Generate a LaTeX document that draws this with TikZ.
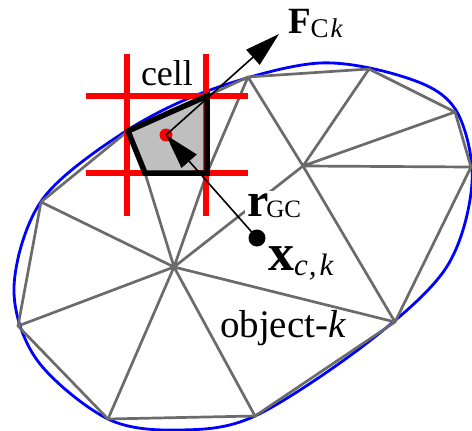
\documentclass[tikz,border=0pt]{standalone}
\usepackage{fontspec}
\setmainfont{Liberation Serif}
\usetikzlibrary{arrows.meta}
\newcommand{\sz}[1]{\fontsize{#1}{#1}\selectfont}
\tikzset{
  x=1pt,y=-1pt,
  mesh/.style={draw=black!58,line width=2.7pt,line join=round},
  outline/.style={draw=blue,line width=2.8pt},
  gridline/.style={draw=red,line width=6pt},
  cellpoly/.style={draw=black,line width=5.5pt,line join=miter},
  vec/.style={draw=black,line width=1.6pt,-{Triangle[length=35pt,width=20pt]}},
  lab/.style={anchor=base west,inner sep=0pt,outer sep=0pt},
}
\begin{document}
\begin{tikzpicture}
\useasboundingbox (0,0) rectangle (472,431);
\coordinate (A) at (248,77);
\coordinate (B) at (369,69);
\coordinate (C) at (455,112);
\coordinate (D) at (471,167);
\coordinate (E) at (303,166);
\coordinate (F) at (395,322);
\coordinate (G) at (255,416);
\coordinate (H) at (108,419);
\coordinate (I) at (18,326);
\coordinate (J) at (41,202);
\coordinate (K) at (174,267);
\coordinate (P) at (128,131);
\coordinate (Q) at (207,96);
\coordinate (R) at (207,173);
\coordinate (S) at (145,173);
\coordinate (X) at (257,238);
\coordinate (T) at (166,135);
\coordinate (U) at (279,34);
% outline
\draw[outline] plot[smooth cycle,tension=0.55] coordinates {
 (42,200) (123,133) (210,90) (320,63) (413,80) (457,112) (472,183) (446,268) (367,343) (255,416) (180,430) (108,419) (37,360) (14,287)};
% mesh
\draw[mesh] (J) -- (P) (Q) -- (A) -- (B) -- (C) -- (D) -- (F) -- (G) -- (H) -- (I) -- (J);
\draw[mesh] (K) -- (I) (K) -- (J) (K) -- (H) (K) -- (G) (K) -- (F) (K) -- (E) (K) -- (R) (K) -- (S);
\draw[mesh] (E) -- (A) (E) -- (B) (E) -- (C) (E) -- (D) (E) -- (F) (A) -- (R);
% cell
\fill[black!25] (P) -- (Q) -- (R) -- (S) -- cycle;
\draw[gridline] (127,54) -- (127,216);
\draw[gridline] (206,54) -- (206,216);
\draw[gridline] (86,96) -- (248,96);
\draw[gridline] (86,173) -- (248,173);
\fill[black!25] (P) -- (Q) -- (203,96) -- (203,170) -- (S) -- cycle;
\draw[cellpoly] (P) -- (Q) -- (R) -- (S) -- cycle;
\fill[red] (T) circle (6.5);
% labels
\node[lab] (cell) at (141,85) {\sz{36}cell};
\node[lab,fill=white,inner sep=2pt] (rgc) at (245,216) {\sz{48}\bfseries r\kern-2pt\raisebox{-1pt}{\sz{25}\mdseries GC}};
\node[lab] (fc) at (288,33) {\sz{37}\bfseries F\raisebox{-5pt}{\sz{27}\mdseries C\kern2pt\itshape k}};
\node[lab] (xck) at (268,270) {\sz{52}\bfseries x\raisebox{-5pt}{\sz{31}\mdseries\itshape c\kern1pt,\kern3pt k}};
\node[lab] (obj) at (220,337) {\sz{39}object-\itshape k};
% vectors
\draw[vec] (T) -- (U);
\draw[vec] (X) -- (T);
\fill[black] (X) circle (8.5);
\end{tikzpicture}
\end{document}
